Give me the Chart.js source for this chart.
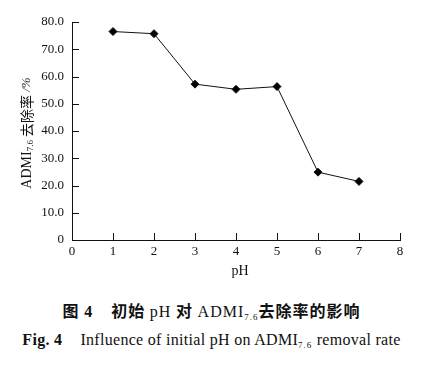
<!DOCTYPE html>
<html>
<head>
<meta charset="utf-8">
<script src="https://cdn.jsdelivr.net/npm/chart.js@4.4.1/dist/chart.umd.min.js"></script>
<style>
  body { margin: 0; background: #fff; }
  #wrap { position: relative; width: 423px; height: 365px; }
  canvas { position: absolute; left: 0; top: 0; }
  .cap { position: absolute; left: 0; width: 423px; text-align: center; white-space: nowrap; color: #111; line-height: 20px; }
  .gap { display: inline-block; width: 18px; }
  #cap1 { top: 300px; font-size: 16px; font-family: "Noto Sans CJK SC", sans-serif; font-weight: bold; letter-spacing: 1px; }
  #cap1 .lat { font-family: "Liberation Serif", serif; font-weight: normal; font-size: 16px; }
  #cap2 { top: 330px; font-size: 16px; font-family: "Liberation Serif", serif; letter-spacing: 0.3px; }
  sub { font-size: 9px; vertical-align: -3px; letter-spacing: 1px; }
</style>
</head>
<body>
<div id="wrap">
  <canvas id="phChart" width="423" height="282"></canvas>
  <div class="cap" id="cap1"><span class="lat" style="font-family:'Noto Sans CJK SC';font-weight:bold">图</span> <span class="lat" style="font-weight:bold">4</span><span class="gap"></span>初始 <span class="lat">pH</span> 对 <span class="lat">ADMI<sub>7.6</sub></span>去除率的影响</div>
  <div class="cap" id="cap2"><b>Fig. 4</b><span class="gap"></span>Influence of initial pH on ADMI<sub>7.6</sub> removal rate</div>
</div>
<script>
// data
const phValues = [1, 2, 3, 4, 5, 6, 7];
const removalRates = [76.5, 75.7, 57.2, 55.3, 56.3, 24.9, 21.5];
const xTicks = [0, 1, 2, 3, 4, 5, 6, 7, 8];
const yTicks = [0, 10, 20, 30, 40, 50, 60, 70, 80];

const serif = '"Liberation Serif", "Times New Roman", serif';

// inward ticks + axis titles (subscript needs manual drawing)
const extrasPlugin = {
    id: 'extras',
    afterDraw(chart) {
        const c = chart.ctx;
        const xs = chart.scales.x, ys = chart.scales.y;
        const area = chart.chartArea;
        c.save();
        c.strokeStyle = '#111';
        c.lineWidth = 1;
        c.beginPath();
        yTicks.forEach(v => {
            const y = Math.round(ys.getPixelForValue(v)) + 0.5;
            c.moveTo(area.left, y);
            c.lineTo(area.left + 7, y);
        });
        xTicks.forEach(v => {
            const x = Math.round(xs.getPixelForValue(v)) + 0.5;
            c.moveTo(x, area.bottom);
            c.lineTo(x, area.bottom - 7);
        });
        c.stroke();

        // x title
        c.fillStyle = '#111';
        c.font = '14px ' + serif;
        c.textAlign = 'center';
        c.textBaseline = 'middle';
        c.fillText('pH', (area.left + area.right) / 2 + 4, 271);

        // y title, rotated
        const parts = [
            { t: 'ADMI', f: '14px ' + serif, dy: 0 },
            { t: '7.6', f: '9px ' + serif, dy: 4 },
            { t: ' 去除率', f: '14px "Noto Sans CJK SC", sans-serif', dy: 0 },
            { t: ' /%', f: 'italic 13px ' + serif, dy: 0 }
        ];
        let total = 0;
        parts.forEach(p => { c.font = p.f; p.w = c.measureText(p.t).width; total += p.w; });
        c.translate(27, 133);
        c.rotate(-Math.PI / 2);
        c.textAlign = 'left';
        c.textBaseline = 'middle';
        let x = -total / 2;
        parts.forEach(p => {
            c.font = p.f;
            c.fillText(p.t, x, p.dy);
            x += p.w;
        });
        c.restore();
    }
};

const ctx = document.getElementById('phChart').getContext('2d');

const myChart = new Chart(ctx, {
    type: 'line',
    data: {
        datasets: [{
            data: phValues.map((p, i) => ({ x: p, y: removalRates[i] })),
            borderColor: '#111',
            backgroundColor: '#000',
            borderWidth: 1,
            pointStyle: 'rectRot',
            pointRadius: 4,
            pointHoverRadius: 4,
            tension: 0,
            clip: false
        }]
    },
    options: {
        responsive: false,
        animation: false,
        devicePixelRatio: 1,
        layout: { padding: { left: 0, top: 22, right: 23, bottom: 0 } },
        plugins: {
            legend: { display: false },
            tooltip: { enabled: false }
        },
        scales: {
            x: {
                type: 'linear',
                min: 0,
                max: 8,
                afterFit: s => { s.height = 42; },
                afterBuildTicks: s => { s.ticks = xTicks.map(v => ({ value: v })); },
                grid: { display: false, drawTicks: false },
                border: { display: true, color: '#111', width: 1 },
                ticks: {
                    color: '#111',
                    padding: 4,
                    font: { family: serif, size: 13 },
                    maxRotation: 0
                }
            },
            y: {
                min: 0,
                max: 80,
                afterFit: s => { s.width = 72; },
                afterBuildTicks: s => { s.ticks = yTicks.map(v => ({ value: v })); },
                grid: { display: false, drawTicks: false },
                border: { display: true, color: '#111', width: 1 },
                ticks: {
                    color: '#111',
                    padding: 8,
                    font: { family: serif, size: 13 },
                    callback: v => v === 0 ? '0' : v.toFixed(1)
                }
            }
        }
    },
    plugins: [extrasPlugin]
});
</script>
</body>
</html>
